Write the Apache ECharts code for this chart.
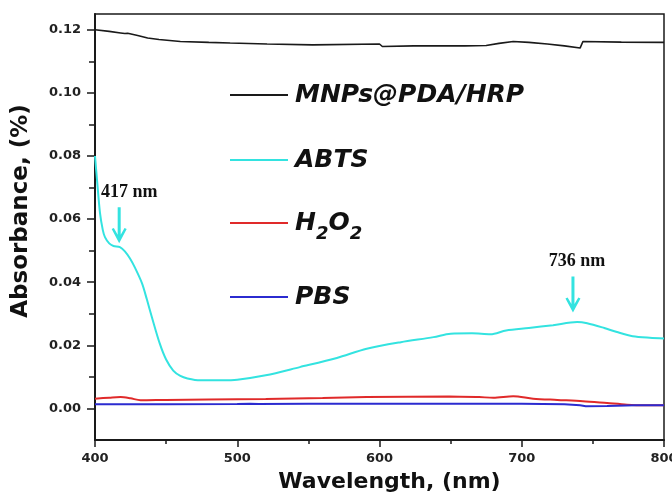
<!DOCTYPE html>
<html>
<head>
<meta charset="utf-8">
<title>Absorbance spectra</title>
<script src="https://cdn.jsdelivr.net/npm/echarts@6/dist/echarts.min.js"></script>
<style>
  html, body { margin: 0; padding: 0; background: #ffffff; }
  #chart { width: 672px; height: 495px; }
</style>
</head>
<body>
<div id="chart"></div>
<script>
// Spectra: wavelength (nm) and absorbance for each sample
const mnpsNm  = [400, 410, 418, 421, 423, 430, 437, 445, 460, 480, 495, 521, 553, 600, 602, 624, 660, 675, 684, 694, 705, 718, 730, 741, 743, 770, 800];
const mnpsAbs = [0.1200, 0.1195, 0.1190, 0.1188, 0.1189, 0.1182, 0.1174, 0.1169, 0.1163, 0.1160, 0.1158, 0.1155, 0.1152, 0.1155, 0.1147, 0.1149, 0.1149, 0.1150, 0.1157, 0.1163, 0.1160, 0.1155, 0.1149, 0.1142, 0.1163, 0.1161, 0.1160];

const abtsNm  = [400, 401.5, 403.5, 405.5, 407, 410, 413, 417.5, 421, 424.5, 428, 433, 436.5, 440, 445.5, 450, 455, 460, 465, 474, 490, 500, 520, 544, 570, 591, 615, 638, 650, 665, 678, 689, 705, 722, 739, 746, 758, 767, 778, 790, 800];
const abtsAbs = [0.0800, 0.0720, 0.0620, 0.0565, 0.0543, 0.0523, 0.0515, 0.0511, 0.0498, 0.0476, 0.0447, 0.0397, 0.0345, 0.0289, 0.0206, 0.0155, 0.0120, 0.0103, 0.0095, 0.0089, 0.0089, 0.0091, 0.0105, 0.0131, 0.0160, 0.0189, 0.0210, 0.0226, 0.0237, 0.0238, 0.0235, 0.0247, 0.0255, 0.0264, 0.0274, 0.0270, 0.0255, 0.0242, 0.0229, 0.0224, 0.0222];

const h2o2Nm  = [400, 410, 418, 425, 432, 450, 480, 520, 560, 591, 649, 670, 680, 694, 708, 725, 743, 760, 774, 785, 800];
const h2o2Abs = [0.0031, 0.0034, 0.0036, 0.0032, 0.0026, 0.0027, 0.0028, 0.0030, 0.0033, 0.0036, 0.0038, 0.0036, 0.0034, 0.0039, 0.0031, 0.0027, 0.0023, 0.0017, 0.0012, 0.0010, 0.0010];

const pbsNm  = [400, 450, 500, 509, 515, 550, 600, 650, 700, 730, 741, 745, 760, 780, 800];
const pbsAbs = [0.0013, 0.0013, 0.0014, 0.0015, 0.0014, 0.0015, 0.0015, 0.0015, 0.0015, 0.0013, 0.0010, 0.0007, 0.0008, 0.0010, 0.0010];

// Annotated ABTS absorption bands
const peakNm     = [417, 736];
const peakAbs    = [0.0511, 0.0272];
const peakLabels = ['417 nm', '736 nm'];

// Axis ticks
const yMajorTicks = [0.00, 0.02, 0.04, 0.06, 0.08, 0.10, 0.12];
const yMinorTicks = [0.01, 0.03, 0.05, 0.07, 0.09, 0.11];

const seriesNames  = ['MNPs@PDA/HRP', 'ABTS', 'H2O2', 'PBS'];
const seriesColors = ['#1a1a1a', '#33e3e0', '#e02a2a', '#2b2bd0'];

const pairs = (xs, ys) => xs.map((x, i) => [x, ys[i]]);

const FONT = '"DejaVu Sans", Arial, sans-serif';

// one legend block per entry so the rows can sit at their own heights
const legendRows = [80, 145, 203, 282];
const legends = seriesNames.map((name, i) => ({
  data: [name],
  left: 230,
  top: legendRows[i],
  padding: 0,
  icon: 'rect',
  itemWidth: 58,
  itemHeight: 2,
  selectedMode: false,
  formatter: n => n === 'H2O2' ? '{m|H}{s|2}{m|O}{s|2}' : n,
  textStyle: {
    fontFamily: FONT,
    fontSize: 25,
    fontWeight: 'bold',
    fontStyle: 'italic',
    color: '#111',
    lineHeight: 30,
    padding: [0, 0, 0, 2],
    rich: {
      m: { fontFamily: FONT, fontSize: 25, fontWeight: 'bold', fontStyle: 'italic', color: '#111', lineHeight: 40, verticalAlign: 'middle' },
      s: { fontFamily: FONT, fontSize: 18, fontWeight: 'bold', fontStyle: 'italic', color: '#111', lineHeight: 40, verticalAlign: 'bottom' }
    }
  }
}));

// filled down-arrow glyph used for the band markers
const ARROW = 'path://M5.6 0 L8.4 0 L8.4 29 L12 22 L14 23 L7 38 L0 23 L2 22 L5.6 29 Z';
const arrowGap = [4, 10];

const chart = echarts.init(document.getElementById('chart'), null, { renderer: 'canvas' });

chart.setOption({
  backgroundColor: '#ffffff',
  animation: false,
  legend: legends,
  grid: {
    left: 95, right: 8, top: 14, bottom: 55,
    outerBoundsMode: 'none',
    containLabel: false,
    show: true, borderColor: '#1a1a1a', borderWidth: 1.5, backgroundColor: 'transparent'
  },
  xAxis: {
    type: 'value',
    min: 400, max: 800, interval: 100,
    name: 'Wavelength, (nm)',
    nameLocation: 'middle',
    nameGap: 31,
    nameTextStyle: { fontFamily: FONT, fontSize: 22, fontWeight: 'bold', color: '#111', padding: [0, 0, 0, 20] },
    axisLine: { show: true, onZero: false, lineStyle: { color: '#1a1a1a', width: 2 } },
    axisTick: { show: true, inside: false, length: 7, lineStyle: { color: '#1a1a1a', width: 1.5 } },
    minorTick: { show: true, splitNumber: 2, length: 4, lineStyle: { color: '#1a1a1a', width: 1.5 } },
    axisLabel: { margin: 12, fontFamily: FONT, fontSize: 13, fontWeight: 'bold', color: '#222' },
    splitLine: { show: false },
    minorSplitLine: { show: false }
  },
  yAxis: [
    {
      type: 'value',
      min: -0.01, max: 0.125,
      name: 'Absorbance, (%)',
      nameLocation: 'middle',
      nameGap: 62,
      nameTextStyle: { fontFamily: FONT, fontSize: 23, fontWeight: 'bold', color: '#111', padding: [0, 0, 0, 32] },
      axisLine: { show: true, onZero: false, lineStyle: { color: '#1a1a1a', width: 2 } },
      axisTick: { show: true, inside: false, length: 8, customValues: yMajorTicks, lineStyle: { color: '#1a1a1a', width: 1.5 } },
      axisLabel: { margin: 14, customValues: yMajorTicks, formatter: v => v.toFixed(2), fontFamily: FONT, fontSize: 13, fontWeight: 'bold', color: '#222' },
      splitLine: { show: false }
    },
    {
      type: 'value',
      min: -0.01, max: 0.125,
      position: 'left',
      axisLine: { show: false, onZero: false },
      axisTick: { show: true, inside: false, length: 6, customValues: yMinorTicks, lineStyle: { color: '#1a1a1a', width: 1.5 } },
      axisLabel: { show: false },
      splitLine: { show: false }
    }
  ],
  series: [
    {
      name: seriesNames[0], type: 'line', data: pairs(mnpsNm, mnpsAbs),
      showSymbol: false, lineStyle: { width: 1.6, color: seriesColors[0] }, itemStyle: { color: seriesColors[0] }
    },
    {
      name: seriesNames[1], type: 'line', data: pairs(abtsNm, abtsAbs), smooth: 0.3,
      showSymbol: false, lineStyle: { width: 2, color: seriesColors[1] }, itemStyle: { color: seriesColors[1] },
      markPoint: {
        symbol: ARROW,
        symbolSize: [15, 36],
        itemStyle: { color: seriesColors[1] },
        label: {
          show: true, position: 'top', distance: 6,
          fontFamily: '"Liberation Serif", "Times New Roman", serif',
          fontSize: 18, fontWeight: 'bold', color: '#111'
        },
        data: peakNm.map((nm, i) => ({
          coord: [nm, peakAbs[i]],
          symbolOffset: [0, -(18 + arrowGap[i])],
          label: { formatter: peakLabels[i], offset: [i === 0 ? 10 : 4, 0] }
        }))
      }
    },
    {
      name: seriesNames[2], type: 'line', data: pairs(h2o2Nm, h2o2Abs), smooth: 0.3,
      showSymbol: false, lineStyle: { width: 2, color: seriesColors[2] }, itemStyle: { color: seriesColors[2] }
    },
    {
      name: seriesNames[3], type: 'line', data: pairs(pbsNm, pbsAbs),
      showSymbol: false, lineStyle: { width: 2, color: seriesColors[3] }, itemStyle: { color: seriesColors[3] }
    }
  ]
});
</script>
</body>
</html>
